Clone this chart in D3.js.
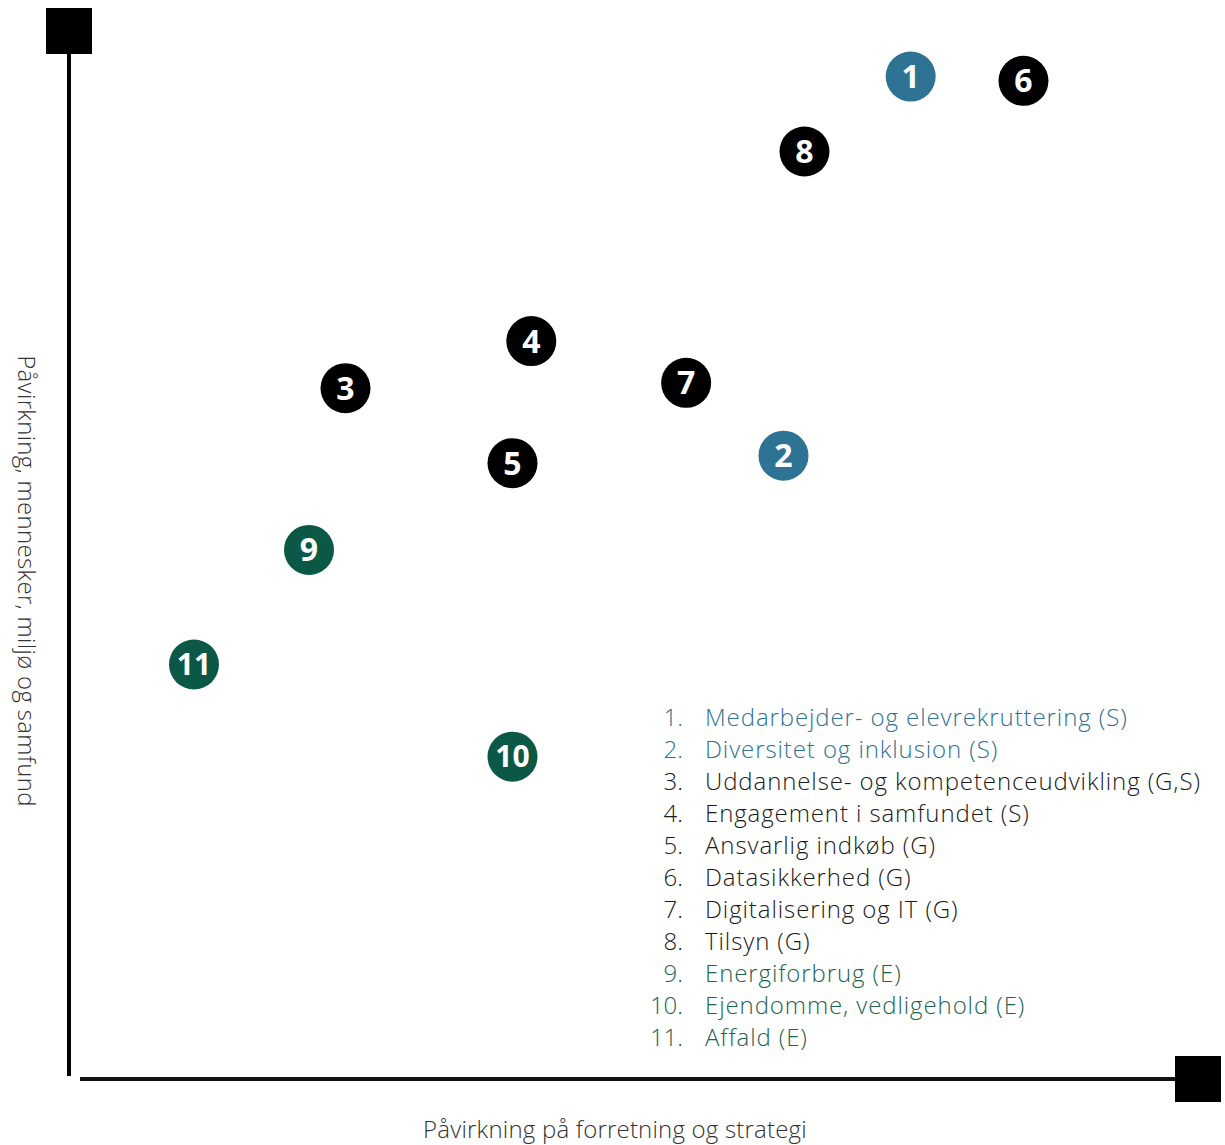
<!DOCTYPE html>
<html>
<head>
<meta charset="utf-8">
<script src="https://cdn.jsdelivr.net/npm/d3@7"></script>
<style>
  body { margin: 0; background: #fff; }
  svg { display: block; }
  text { font-family: "Open Sans", sans-serif; }
</style>
</head>
<body>
<script>
// data (0-100 on both axes)
const ids = [1, 2, 3, 4, 5, 6, 7, 8, 9, 10, 11];
const names = [
  "Medarbejder- og elevrekruttering (S)",
  "Diversitet og inklusion (S)",
  "Uddannelse- og kompetenceudvikling (G,S)",
  "Engagement i samfundet (S)",
  "Ansvarlig indkøb (G)",
  "Datasikkerhed (G)",
  "Digitalisering og IT (G)",
  "Tilsyn (G)",
  "Energiforbrug (E)",
  "Ejendomme, vedligehold (E)",
  "Affald (E)"
];
const groups = ["S", "S", "G", "G", "G", "G", "G", "G", "E", "E", "E"];
const businessImpact = [76.1, 64.6, 25.0, 41.8, 40.1, 86.3, 55.8, 66.5, 21.7, 40.1, 11.3];
const peopleImpact = [93.6, 58.2, 64.5, 68.9, 57.5, 93.2, 65.0, 86.6, 49.4, 30.1, 38.7];

const colors = { S: "#2e7393", G: "#000000", E: "#0b5846" };
const textColors = { S: "#2e7393", G: "#1a1a1a", E: "#1d6450" };

const W = 1225, H = 1145;
const svg = d3.select("body").append("svg").attr("width", W).attr("height", H);

const x = d3.scaleLinear().domain([0, 100]).range([69, 1175]);
const y = d3.scaleLinear().domain([0, 100]).range([1079, 8]);

// axes
svg.append("line")
  .attr("x1", x(0)).attr("x2", x(0))
  .attr("y1", y(100)).attr("y2", 1076)
  .attr("stroke", "#000").attr("stroke-width", 4);
svg.append("line")
  .attr("x1", 80).attr("x2", x(100))
  .attr("y1", y(0)).attr("y2", y(0))
  .attr("stroke", "#111").attr("stroke-width", 4);

// corner squares
svg.append("rect").attr("x", x(0) - 23).attr("y", y(100)).attr("width", 46).attr("height", 46).attr("fill", "#000");
svg.append("rect").attr("x", x(100)).attr("y", y(0) - 23).attr("width", 46).attr("height", 46).attr("fill", "#000");

// axis titles
svg.append("text")
  .attr("x", 615).attr("y", 1138)
  .attr("text-anchor", "middle")
  .attr("font-size", 24).attr("font-weight", 300)
  .attr("letter-spacing", 0.2)
  .attr("fill", "#333")
  .text("Påvirkning på forretning og strategi");
svg.append("text")
  .attr("transform", "translate(18,581) rotate(90)")
  .attr("text-anchor", "middle")
  .attr("font-size", 24).attr("font-weight", 300)
  .attr("letter-spacing", 0.3)
  .attr("fill", "#333")
  .text("Påvirkning, mennesker, miljø og samfund");

// points
const pts = svg.append("g").selectAll("g")
  .data(ids)
  .join("g")
  .attr("transform", (d, i) => `translate(${x(businessImpact[i])},${y(peopleImpact[i])})`);
pts.append("circle").attr("r", 25).attr("fill", (d, i) => colors[groups[i]]);
pts.append("text")
  .attr("text-anchor", "middle")
  .attr("dy", "0.36em")
  .attr("font-family", "DejaVu Sans")
  .attr("font-weight", "bold")
  .attr("font-size", d => d > 9 ? 30 : 32)
  .attr("fill", "#fff")
  .text(d => d);

// legend
const leg = svg.append("g").selectAll("g")
  .data(ids)
  .join("g")
  .attr("transform", (d, i) => `translate(0,${726 + i * 32})`)
  .attr("fill", (d, i) => textColors[groups[i]]);
leg.append("text")
  .attr("x", 683).attr("text-anchor", "end")
  .attr("font-size", 24).attr("font-weight", 300)
  .text(d => d + ".");
leg.append("text")
  .attr("x", 705)
  .attr("font-size", 24).attr("font-weight", 300)
  .attr("letter-spacing", 0.9)
  .text((d, i) => names[i]);
</script>
</body>
</html>
